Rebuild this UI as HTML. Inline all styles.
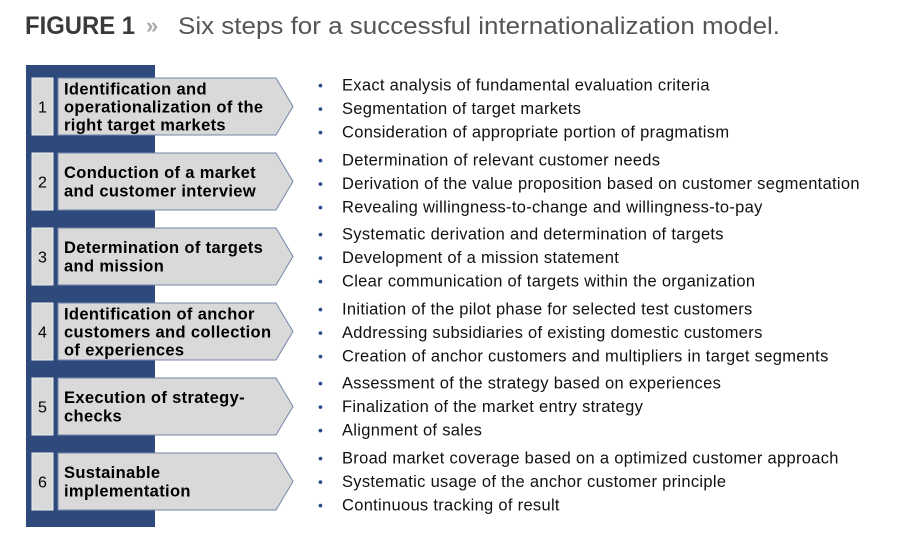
<!DOCTYPE html>
<html><head><meta charset="utf-8"><style>
html,body{margin:0;padding:0;background:#fff;width:900px;height:550px;overflow:hidden}
svg{display:block}
.n{font-size:16px;fill:#000}
.h{font-size:16.5px;font-weight:bold;fill:#000;letter-spacing:0.35px}
.b{font-size:16.5px;fill:#111;letter-spacing:0.3px}
.d{font-size:14px;fill:#2a4a90}
.box{fill:#d9d9d9;stroke:#eee;stroke-width:1}
.arr{fill:#d9d9d9;stroke:#7486a8;stroke-width:1}
</style></head><body>
<svg width="900" height="550" xmlns="http://www.w3.org/2000/svg" font-family="Liberation Sans, sans-serif">
<text x="25" y="34" font-size="25" font-weight="bold" fill="#3a3a3a" textLength="110" lengthAdjust="spacingAndGlyphs">FIGURE 1</text>
<text x="146" y="33" font-size="22" font-weight="bold" fill="#aaa">»</text>
<text x="178" y="34" font-size="24" fill="#555" textLength="602" lengthAdjust="spacingAndGlyphs">Six steps for a successful internationalization model.</text>
<rect x="26" y="65" width="129" height="462" fill="#2e4a7d"/>

<rect class="box" x="32" y="78" width="21" height="57"/>
<text class="n" x="42.5" y="112.5" text-anchor="middle">1</text>
<polygon class="arr" points="58,78 276,78 293,106.5 276,135 58,135"/>
<text class="h" x="64" y="94.5">Identification and</text>
<text class="h" x="64" y="112.5">operationalization of the</text>
<text class="h" x="64" y="130.5">right target markets</text>

<rect class="box" x="32" y="153" width="21" height="57"/>
<text class="n" x="42.5" y="187.5" text-anchor="middle">2</text>
<polygon class="arr" points="58,153 276,153 293,181.5 276,210 58,210"/>
<text class="h" x="64" y="177.75">Conduction of a market</text>
<text class="h" x="64" y="196.25">and customer interview</text>

<rect class="box" x="32" y="228" width="21" height="57"/>
<text class="n" x="42.5" y="262.5" text-anchor="middle">3</text>
<polygon class="arr" points="58,228 276,228 293,256.5 276,285 58,285"/>
<text class="h" x="64" y="252.75">Determination of targets</text>
<text class="h" x="64" y="271.25">and mission</text>

<rect class="box" x="32" y="303" width="21" height="57"/>
<text class="n" x="42.5" y="337.5" text-anchor="middle">4</text>
<polygon class="arr" points="58,303 276,303 293,331.5 276,360 58,360"/>
<text class="h" x="64" y="319.5">Identification of anchor</text>
<text class="h" x="64" y="337.5">customers and collection</text>
<text class="h" x="64" y="355.5">of experiences</text>

<rect class="box" x="32" y="378" width="21" height="57"/>
<text class="n" x="42.5" y="412.5" text-anchor="middle">5</text>
<polygon class="arr" points="58,378 276,378 293,406.5 276,435 58,435"/>
<text class="h" x="64" y="402.75">Execution of strategy-</text>
<text class="h" x="64" y="421.25">checks</text>

<rect class="box" x="32" y="453" width="21" height="57"/>
<text class="n" x="42.5" y="487.5" text-anchor="middle">6</text>
<polygon class="arr" points="58,453 276,453 293,481.5 276,510 58,510"/>
<text class="h" x="64" y="477.75">Sustainable</text>
<text class="h" x="64" y="496.25">implementation</text>

<g>
<text class="d" x="318" y="90">•</text><text class="b" x="342" y="90.5">Exact analysis of fundamental evaluation criteria</text>
<text class="d" x="318" y="113.5">•</text><text class="b" x="342" y="114">Segmentation of target markets</text>
<text class="d" x="318" y="137">•</text><text class="b" x="342" y="137.5">Consideration of appropriate portion of pragmatism</text>

<text class="d" x="318" y="165">•</text><text class="b" x="342" y="165.5">Determination of relevant customer needs</text>
<text class="d" x="318" y="188.5">•</text><text class="b" x="342" y="189">Derivation of the value proposition based on customer segmentation</text>
<text class="d" x="318" y="212">•</text><text class="b" x="342" y="212.5">Revealing willingness-to-change and willingness-to-pay</text>

<text class="d" x="318" y="239">•</text><text class="b" x="342" y="239.5">Systematic derivation and determination of targets</text>
<text class="d" x="318" y="262.5">•</text><text class="b" x="342" y="263">Development of a mission statement</text>
<text class="d" x="318" y="286">•</text><text class="b" x="342" y="286.5">Clear communication of targets within the organization</text>

<text class="d" x="318" y="314">•</text><text class="b" x="342" y="314.5">Initiation of the pilot phase for selected test customers</text>
<text class="d" x="318" y="337.5">•</text><text class="b" x="342" y="338">Addressing subsidiaries of existing domestic customers</text>
<text class="d" x="318" y="361">•</text><text class="b" x="342" y="361.5">Creation of anchor customers and multipliers in target segments</text>

<text class="d" x="318" y="388">•</text><text class="b" x="342" y="388.5">Assessment of the strategy based on experiences</text>
<text class="d" x="318" y="411.5">•</text><text class="b" x="342" y="412">Finalization of the market entry strategy</text>
<text class="d" x="318" y="435">•</text><text class="b" x="342" y="435.5">Alignment of sales</text>

<text class="d" x="318" y="463">•</text><text class="b" x="342" y="463.5">Broad market coverage based on a optimized customer approach</text>
<text class="d" x="318" y="486.5">•</text><text class="b" x="342" y="487">Systematic usage of the anchor customer principle</text>
<text class="d" x="318" y="510">•</text><text class="b" x="342" y="510.5">Continuous tracking of result</text>
</g>
</svg>
</body></html>
